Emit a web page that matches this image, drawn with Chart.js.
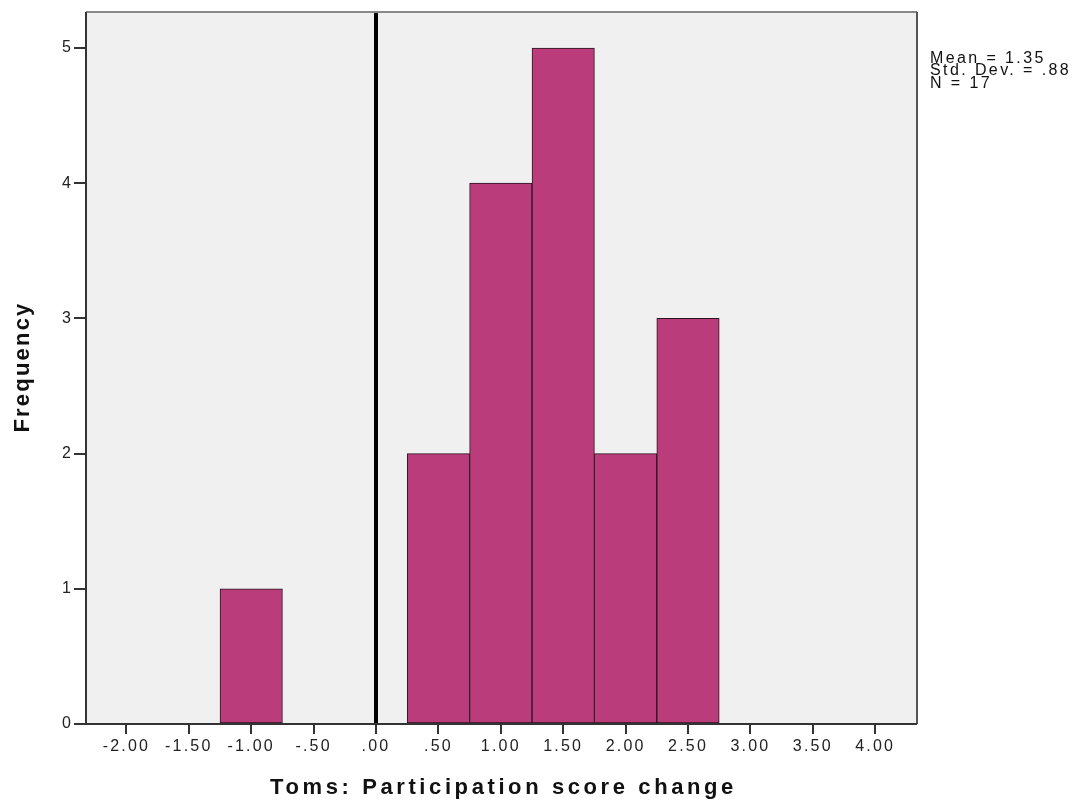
<!DOCTYPE html>
<html>
<head>
<meta charset="utf-8">
<script src="https://cdn.jsdelivr.net/npm/chart.js"></script>
<style>
  html, body { margin: 0; padding: 0; background: #fff; }
  #wrap { width: 1077px; height: 807px; }
</style>
</head>
<body>
<div id="wrap"><canvas id="visualization"></canvas></div>
<script>
// bin midpoints and counts
const binCenters = [-1.0, 0.5, 1.0, 1.5, 2.0, 2.5];
const frequencies = [1, 2, 4, 5, 2, 3];
const statsLines = ['Mean = 1.35', 'Std. Dev. = .88', 'N = 17'];
const xTitle = 'Toms: Participation score change';
const yTitle = 'Frequency';

const FONT = '"Liberation Sans", Arial, sans-serif';

// SPSS output is drawn with wide letter spacing
const spacingPlugin = {
    id: 'spacing',
    beforeDraw(chart) {
        chart.ctx.letterSpacing = '2.2px';
    }
};

const bgPlugin = {
    id: 'plotbg',
    beforeDraw(chart) {
        const ctx = chart.ctx;
        const a = chart.chartArea;
        ctx.save();
        ctx.fillStyle = '#F0F0F0';
        ctx.fillRect(a.left, a.top, a.right - a.left, a.bottom - a.top);
        ctx.restore();
    }
};

const framePlugin = {
    id: 'frame',
    beforeDatasetsDraw(chart) {
        const ctx = chart.ctx;
        const a = chart.chartArea;
        const x0 = chart.scales.x.getPixelForValue(0);
        ctx.save();
        ctx.fillStyle = '#000';
        ctx.fillRect(Math.round(x0) - 2, a.top, 4, a.bottom - a.top);
        ctx.restore();
    },
    afterDraw(chart) {
        const ctx = chart.ctx;
        const a = chart.chartArea;
        ctx.save();
        ctx.strokeStyle = '#888';
        ctx.lineWidth = 2;
        ctx.beginPath();
        ctx.moveTo(a.left, a.top);
        ctx.lineTo(a.right, a.top);
        ctx.stroke();
        ctx.strokeStyle = '#555';
        ctx.beginPath();
        ctx.moveTo(a.right, a.top);
        ctx.lineTo(a.right, a.bottom);
        ctx.stroke();
        ctx.strokeStyle = '#333';
        ctx.beginPath();
        ctx.moveTo(a.left, a.top);
        ctx.lineTo(a.left, a.bottom);
        ctx.lineTo(a.right, a.bottom);
        ctx.stroke();

        // summary statistics
        ctx.fillStyle = '#111';
        ctx.font = '16px ' + FONT;
        ctx.letterSpacing = '2.4px';
        ctx.textAlign = 'left';
        ctx.textBaseline = 'alphabetic';
        statsLines.forEach((t, i) => {
            ctx.fillText(t, a.right + 13, 63 + i * 12.3);
        });

        // axis titles
        ctx.font = 'bold 22px ' + FONT;
        ctx.textAlign = 'center';
        ctx.letterSpacing = '3.6px';
        ctx.fillText(xTitle, (a.left + a.right) / 2 + 2, 794);

        ctx.letterSpacing = '2.2px';
        ctx.translate(29, (a.top + a.bottom) / 2);
        ctx.rotate(-Math.PI / 2);
        ctx.fillText(yTitle, 1, 0);
        ctx.restore();
    }
};

function fmt(v) {
    let s = Math.abs(v).toFixed(2);
    if (s.startsWith('0')) s = s.slice(1);
    return (v < 0 ? '-' : '') + s;
}

const data = {
    datasets: [{
        label: 'Frequency',
        data: binCenters.map((c, i) => ({ x: c, y: frequencies[i] })),
        backgroundColor: '#BA3C7A',
        borderColor: '#2a1520',
        borderWidth: 1,
        barPercentage: 1.0,
        categoryPercentage: 1.0,
        borderSkipped: false,
    }]
};

const config = {
    type: 'bar',
    data: data,
    options: {
        responsive: true,
        maintainAspectRatio: false,
        animation: false,
        layout: { padding: { left: 0, right: 160, top: 12, bottom: 0 } },
        plugins: { legend: { display: false }, tooltip: { enabled: false } },
        scales: {
            x: {
                type: 'linear',
                min: -2.324,
                max: 4.335,
                offset: false,
                grid: { offset: false, drawOnChartArea: false, drawTicks: true, tickLength: 10, tickColor: '#333', lineWidth: 2 },
                border: { display: false },
                ticks: {
                    stepSize: 0.5,
                    includeBounds: false,
                    autoSkip: false,
                    maxRotation: 0,
                    padding: 3,
                    color: '#222',
                    font: { family: FONT, size: 16 },
                    callback: (v) => fmt(v)
                },
                title: { display: false },
                afterFit: (s) => { s.height = 83; }
            },
            y: {
                min: 0,
                max: 5.266,
                grid: { drawOnChartArea: false, drawTicks: true, tickLength: 12, tickColor: '#333', lineWidth: 2 },
                border: { display: false },
                ticks: {
                    stepSize: 1,
                    includeBounds: false,
                    padding: 1,
                    color: '#222',
                    font: { family: FONT, size: 16 },
                    callback: (v) => String(v)
                },
                title: { display: false },
                afterFit: (s) => { s.width = 86; }
            }
        }
    },
    plugins: [spacingPlugin, bgPlugin, framePlugin]
};

const myChart = new Chart(document.getElementById('visualization'), config);
</script>
</body>
</html>
